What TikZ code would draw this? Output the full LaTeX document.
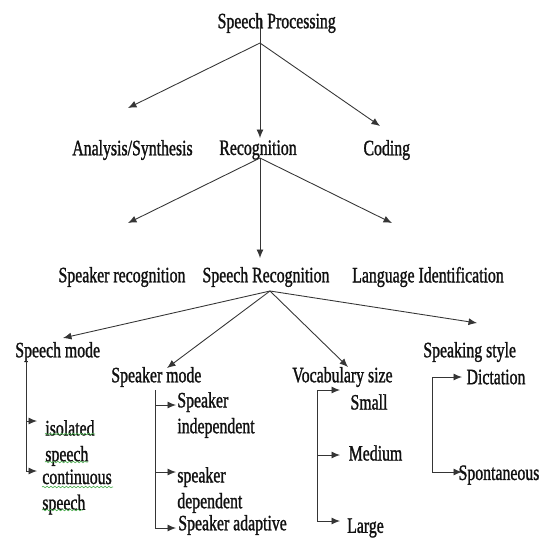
\documentclass[tikz,border=0pt]{standalone}
\usepackage{fontspec}
\setmainfont[FakeStretch=0.72, FakeBold=1.2]{Liberation Serif}
\usetikzlibrary{arrows.meta, decorations.pathmorphing}
\definecolor{ink}{HTML}{111111}
\definecolor{squiggle}{HTML}{4CAF50}
\tikzset{
  term/.style={inner sep=0pt, text=ink, font=\fontsize{12.5}{14.7}\selectfont},
  leaf/.style={term, anchor=west, align=left},
  arrow/.style={-{Latex[length=1.7mm,width=1.4mm]}, line width=0.5pt, draw=ink!85},
  branch/.style={line width=0.5pt, draw=ink!85},
  spell/.style={decorate, decoration={snake, segment length=2.2pt, amplitude=0.45pt},
                line width=0.35pt, draw=squiggle},
}

\begin{document}
\begin{tikzpicture}[x=0.02cm, y=-0.02cm]
  \useasboundingbox (0,0) rectangle (542,539);

  % top levels
  \node[term] (sp)     at (276.7,23)  {Speech Processing};
  \node[term] (ana)    at (132.5,150) {Analysis/Synthesis};
  \node[term] (rec)    at (258,150)   {Recognition};
  \node[term] (cod)    at (386.8,150) {Coding};
  \node[term] (spkrec) at (122,277)   {Speaker recognition};
  \node[term] (sprec)  at (266,277)   {Speech Recognition};
  \node[term] (lid)    at (428,277)   {Language Identification};

  % categories
  \node[leaf] (mode)    at (15,352)  {Speech mode};
  \node[leaf] (spkmode) at (111,377) {Speaker mode};
  \node[leaf] (vocab)   at (292,377) {Vocabulary size};
  \node[leaf] (style)   at (423,352) {Speaking style};

  % leaves
  \node[leaf] (iso)    at (45,443)  {isolated\\speech};
  \node[leaf] (cont)   at (42,492)  {continuous\\speech};
  \node[leaf] (spkind) at (177,415) {Speaker\\independent};
  \node[leaf] (spkdep) at (177,490) {speaker\\dependent};
  \node[leaf] (spkad)  at (178,525) {Speaker adaptive};
  \node[term] (small)  at (369,402)   {Small};
  \node[term] (medium) at (375.5,453) {Medium};
  \node[term] (large)  at (365.5,528) {Large};
  \node[term] (dict)   at (496,377)   {Dictation};
  \node[term] (spont)  at (499,475)   {Spontaneous};

  % fork points and arrow ends
  \coordinate (sp-top)   at (260,20);
  \coordinate (sp-fork)  at (260,43);
  \coordinate (ana-tip)  at (128,108);
  \coordinate (rec-tip)  at (260,138);
  \coordinate (cod-tip)  at (380,126);
  \coordinate (rec-fork) at (260,158);
  \coordinate (spkrec-tip) at (128,223);
  \coordinate (sprec-tip)  at (260,258);
  \coordinate (lid-tip)    at (392,223);
  \coordinate (sr-fork)  at (270,291);
  \coordinate (mode-tip)    at (63,338);
  \coordinate (spkmode-tip) at (167,368);
  \coordinate (vocab-tip)   at (348,367);
  \coordinate (style-tip)   at (477,323);

  \draw[branch] (sp-top) -- (sp-fork);
  \draw[arrow] (sp-fork) -- (ana-tip);
  \draw[arrow] (sp-fork) -- (rec-tip);
  \draw[arrow] (sp-fork) -- (cod-tip);

  \draw[arrow] (rec-fork) -- (spkrec-tip);
  \draw[arrow] (rec-fork) -- (sprec-tip);
  \draw[arrow] (rec-fork) -- (lid-tip);

  \draw[arrow] (sr-fork) -- (mode-tip);
  \draw[arrow] (sr-fork) -- (spkmode-tip);
  \draw[arrow] (sr-fork) -- (vocab-tip);
  \draw[arrow] (sr-fork) -- (style-tip);

  % bracket arrows
  \coordinate (mode-bar)    at (26,357);
  \coordinate (spkmode-bar) at (155,390);
  \coordinate (vocab-bar)   at (317,390);
  \coordinate (style-bar)   at (432,377);

  \draw[arrow] (mode-bar) |- (37,421);
  \draw[arrow] (mode-bar) |- (37,471);

  \draw[arrow] (spkmode-bar) |- (176,405);
  \draw[arrow] (spkmode-bar) |- (176,472);
  \draw[arrow] (spkmode-bar) |- (176,528);

  \draw[arrow] (vocab-bar) -- (340,390);
  \draw[arrow] (vocab-bar) |- (340,455);
  \draw[arrow] (vocab-bar) |- (340,521);

  \draw[arrow] (style-bar) -- (462,377);
  \draw[arrow] (style-bar) |- (462,472);

  % spell-check squiggles
  \draw[spell] (45,434) -- (95,434);
  \draw[spell] (45,462) -- (88,462);
  \draw[spell] (42,487) -- (113,487);
  \draw[spell] (42,510) -- (83,510);
\end{tikzpicture}
\end{document}
